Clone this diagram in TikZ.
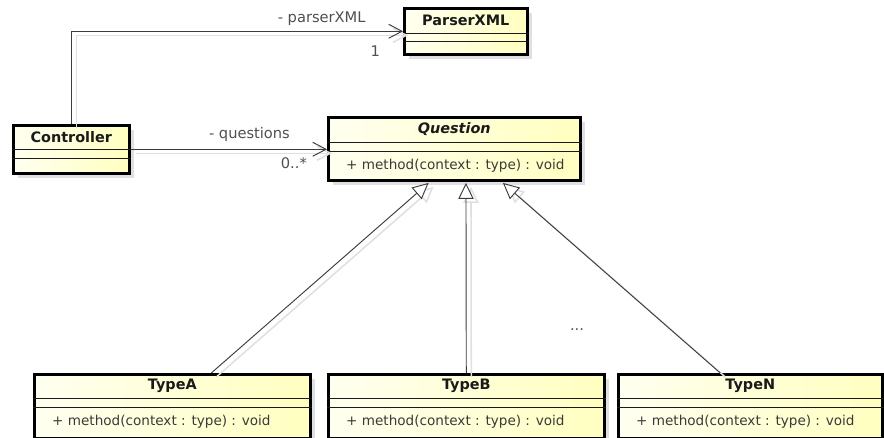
\documentclass[tikz,border=0pt]{standalone}
\usepackage{fontspec}
\setmainfont{DejaVu Sans}
\usepackage{tikz}
\usetikzlibrary{
  arrows.meta,
  positioning,
  calc,
  shadows,
}
\definecolor{ink}{HTML}{1A1A1A}
\definecolor{wire}{HTML}{3C3C3C}
\definecolor{muted}{HTML}{3A3A3A}
\definecolor{labelgray}{HTML}{505050}
\definecolor{classleft}{HTML}{FFFFF0}
\definecolor{classright}{HTML}{FFFFC0}
\definecolor{ghostgray}{HTML}{E0E0E0}
\tikzset{
  font=\fontsize{11.6}{13}\selectfont,
  every node/.append style={text=ink},
  classbox/.style={
    rectangle,
    draw=black,
    line width=2.2pt,
    left color=classleft,
    right color=classright,
    inner sep=0pt,
    anchor=north west,
    drop shadow={shadow xshift=0.14cm, shadow yshift=-0.14cm, fill=black!24},
  },
  split/.style={draw=ink, line width=0.7pt},
  classname/.style={font=\fontsize{12.3}{14}\selectfont\bfseries},
  member/.style={anchor=west, text=muted},
  rolename/.style={text=labelgray, font=\fontsize{12.5}{14}\selectfont},
  ghost/.style={
    preaction={draw=ghostgray, line width=1.3pt,
      transform canvas={shift={(0.15,-0.12)}}}
  },
  assoc/.style={
    draw=wire, line width=0.8pt, ghost,
    -{Straight Barb[length=0.40cm, width=0.42cm]},
  },
  inherit/.style={
    draw=wire, line width=0.8pt, ghost,
    -{Triangle[open, length=0.48cm, width=0.46cm, fill=white]},
  },
}

\begin{document}
\begin{tikzpicture}[x=1cm,y=1cm]
  \fill[white] (0,0) rectangle (26.52,13.14);
  \useasboundingbox (0,0) rectangle (26.52,13.14);

  % Controller
  \node[classbox, minimum width=3.48cm, minimum height=1.44cm] (controller) at (0.36,9.42) {};
  \draw[split] ([yshift=-0.75cm]controller.north west) -- ([yshift=-0.75cm]controller.north east);
  \draw[split] ([yshift=-1.02cm]controller.north west) -- ([yshift=-1.02cm]controller.north east);
  \node[classname] (controller-name) at ([yshift=-0.39cm]controller.north) {Controller};

  % ParserXML
  \node[classbox, minimum width=3.69cm, minimum height=1.38cm] (parser) at (12.09,12.93) {};
  \draw[split] ([yshift=-0.78cm]parser.north west) -- ([yshift=-0.78cm]parser.north east);
  \draw[split] ([yshift=-1.02cm]parser.north west) -- ([yshift=-1.02cm]parser.north east);
  \node[classname] (parser-name) at ([yshift=-0.39cm]parser.north) {ParserXML};

  % Question (abstract)
  \node[classbox, minimum width=7.56cm, minimum height=1.89cm] (question) at (9.81,9.66) {};
  \draw[split] ([yshift=-0.78cm]question.north west) -- ([yshift=-0.78cm]question.north east);
  \draw[split] ([yshift=-1.05cm]question.north west) -- ([yshift=-1.05cm]question.north east);
  \node[classname, font=\fontsize{12.3}{14}\selectfont\bfseries\itshape] (question-name) at ([yshift=-0.39cm]question.north) {Question};
  \node[member] (question-op) at ([xshift=0.45cm, yshift=-1.50cm]question.north west) {+ method(context : type) : void};

  % subclasses
  \node[classbox, minimum width=8.28cm, minimum height=1.92cm] (typeA) at (0.99,1.95) {};
  \draw[split] ([yshift=-0.75cm]typeA.north west) -- ([yshift=-0.75cm]typeA.north east);
  \draw[split] ([yshift=-1.02cm]typeA.north west) -- ([yshift=-1.02cm]typeA.north east);
  \node[classname] (typeA-name) at ([yshift=-0.375cm]typeA.north) {TypeA};
  \node[member] (typeA-op) at ([xshift=0.45cm, yshift=-1.47cm]typeA.north west) {+ method(context : type) : void};

  \node[classbox, minimum width=8.28cm, minimum height=1.92cm] (typeB) at (9.81,1.95) {};
  \draw[split] ([yshift=-0.75cm]typeB.north west) -- ([yshift=-0.75cm]typeB.north east);
  \draw[split] ([yshift=-1.02cm]typeB.north west) -- ([yshift=-1.02cm]typeB.north east);
  \node[classname] (typeB-name) at ([yshift=-0.375cm]typeB.north) {TypeB};
  \node[member] (typeB-op) at ([xshift=0.45cm, yshift=-1.47cm]typeB.north west) {+ method(context : type) : void};

  \node[classbox, minimum width=7.92cm, minimum height=1.92cm] (typeN) at (18.51,1.95) {};
  \draw[split] ([yshift=-0.75cm]typeN.north west) -- ([yshift=-0.75cm]typeN.north east);
  \draw[split] ([yshift=-1.02cm]typeN.north west) -- ([yshift=-1.02cm]typeN.north east);
  \node[classname] (typeN-name) at ([yshift=-0.375cm]typeN.north) {TypeN};
  \node[member] (typeN-op) at ([xshift=0.45cm, yshift=-1.47cm]typeN.north west) {+ method(context : type) : void};

  \node[rolename] (more) at (17.31,3.24) {...};

  % associations
  \draw[assoc] (controller.north) |- (parser.west);
  \node[rolename, anchor=base east] (parser-role) at ([xshift=-1.0cm, yshift=0.26cm]parser.west) {- parserXML};
  \node[rolename, anchor=base east] (parser-mult) at ([xshift=-0.57cm, yshift=-0.75cm]parser.west) {1};

  \draw[assoc] (controller.east) -- (controller.east -| question.west);
  \node[rolename, anchor=base east] (question-role) at ([xshift=-0.99cm, yshift=0.31cm]question.west) {- questions};
  \node[rolename, anchor=base east] (question-mult) at ([xshift=-0.48cm, yshift=-0.59cm]question.west) {0..*};

  % generalizations
  \draw[inherit] ([xshift=1.17cm]typeA.north) -- ([xshift=-0.77cm, yshift=-0.04cm]question.south);
  \draw[inherit] ([xshift=0cm]typeB.north) -- ([xshift=0.35cm, yshift=-0.04cm]question.south);
  \draw[inherit] ([xshift=-0.90cm]typeN.north) -- ([xshift=1.46cm, yshift=-0.04cm]question.south);
\end{tikzpicture}
\end{document}
